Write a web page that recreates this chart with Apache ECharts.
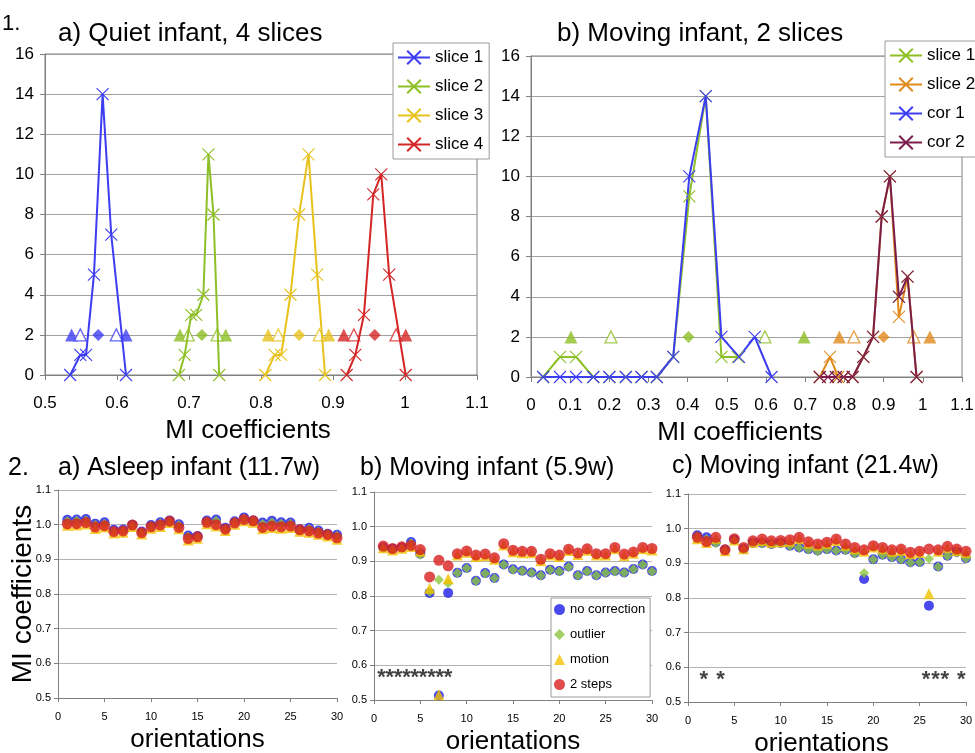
<!DOCTYPE html>
<html>
<head>
<meta charset="utf-8">
<script src="https://cdn.jsdelivr.net/npm/echarts@6/dist/echarts.min.js"></script>
<style>
  html, body { margin: 0; padding: 0; background: #fff; }
  #chart { width: 975px; height: 753px; }
</style>
</head>
<body>
<div id="chart"></div>
<script>
  // ---- 1a) quiet infant, 4 slices : histogram of MI coefficients
  const quietS1X = [0.535, 0.549, 0.557, 0.568, 0.580, 0.592, 0.6125]
  const quietS1Y = [0, 1, 1, 5, 14, 7, 0]
  const quietS2X = [0.686, 0.694, 0.703, 0.710, 0.720, 0.727, 0.734, 0.742]
  const quietS2Y = [0, 1, 3, 3, 4, 11, 8, 0]
  const quietS3X = [0.806, 0.819, 0.828, 0.841, 0.853, 0.866, 0.878, 0.889]
  const quietS3Y = [0, 1, 1, 4, 8, 11, 5, 0]
  const quietS4X = [0.919, 0.931, 0.943, 0.956, 0.967, 0.978, 1.001]
  const quietS4Y = [0, 1, 3, 9, 10, 5, 0]
  // markers drawn on the "2" row: [min, -sd, mean, +sd, max]
  const quietMarks = [
    [0.537, 0.549, 0.574, 0.599, 0.6125],
    [0.6875, 0.699, 0.718, 0.739, 0.751],
    [0.810, 0.824, 0.853, 0.881, 0.894],
    [0.915, 0.929, 0.958, 0.9875, 1.001],
  ]

  // ---- 1b) moving infant, 2 slices
  const movS1X = [0.031, 0.074, 0.115, 0.159, 0.200, 0.242, 0.282, 0.321, 0.363, 0.404, 0.446, 0.486, 0.528]
  const movS1Y = [0, 1, 1, 0, 0, 0, 0, 0, 1, 9, 14, 1, 1]
  const movS2X = [0.737, 0.763, 0.784, 0.798, 0.821, 0.848, 0.873, 0.895, 0.916, 0.939, 0.961, 0.984]
  const movS2Y = [0, 1, 0, 0, 0, 1, 2, 8, 10, 3, 5, 0]
  const movC1X = [0.031, 0.074, 0.115, 0.159, 0.200, 0.242, 0.282, 0.321, 0.363, 0.404, 0.446, 0.486, 0.531, 0.571, 0.614]
  const movC1Y = [0, 0, 0, 0, 0, 0, 0, 0, 1, 10, 14, 2, 1, 2, 0]
  const movC2X = [0.737, 0.758, 0.778, 0.798, 0.821, 0.848, 0.873, 0.895, 0.916, 0.939, 0.961, 0.984]
  const movC2Y = [0, 0, 0, 0, 0, 1, 2, 8, 10, 4, 5, 0]
  const movMarks = [
    [0.102, 0.204, 0.402, 0.597, 0.697],
    [0.787, 0.824, 0.900, 0.977, 1.018],
  ]
  const markRow = 2

  // ---- 2) MI coefficients per orientation
  const orientations = [1, 2, 3, 4, 5, 6, 7, 8, 9, 10, 11, 12, 13, 14, 15, 16, 17, 18, 19, 20, 21, 22, 23, 24, 25, 26, 27, 28, 29, 30]

  const asleepNoCorr = [1.014, 1.015, 1.016, 1.003, 1.007, 0.985, 0.986, 1.000, 0.980, 0.999, 1.007, 1.012, 1.001, 0.969, 0.967, 1.012, 1.015, 0.991, 1.010, 1.021, 1.012, 1.006, 1.011, 1.007, 1.006, 0.987, 0.991, 0.983, 0.974, 0.971]
  const asleepOutlier = [1.010, 1.011, 1.012, 0.999, 1.003, 0.982, 0.983, 0.998, 0.978, 0.996, 1.004, 1.010, 0.998, 0.965, 0.965, 1.009, 1.011, 0.989, 1.008, 1.018, 1.011, 1.002, 1.006, 1.003, 1.003, 0.985, 0.988, 0.980, 0.972, 0.968]
  const asleepMotion = [0.998, 0.999, 1.002, 0.989, 0.993, 0.976, 0.978, 0.995, 0.973, 0.990, 0.995, 1.006, 0.988, 0.956, 0.961, 1.003, 0.996, 0.983, 1.001, 1.011, 1.007, 0.988, 0.992, 0.990, 0.992, 0.981, 0.978, 0.972, 0.967, 0.958]
  const asleepTwoSteps = [1.002, 1.003, 1.006, 0.993, 0.997, 0.980, 0.982, 0.999, 0.977, 0.994, 0.999, 1.010, 0.992, 0.960, 0.965, 1.007, 1.000, 0.987, 1.005, 1.015, 1.011, 0.992, 0.996, 0.994, 0.996, 0.985, 0.982, 0.976, 0.971, 0.962]

  const mov59NoCorr = [0.940, 0.936, 0.940, 0.956, 0.922, 0.809, 0.513, 0.809, 0.867, 0.881, 0.844, 0.866, 0.852, 0.891, 0.877, 0.873, 0.868, 0.860, 0.876, 0.872, 0.885, 0.860, 0.872, 0.860, 0.868, 0.872, 0.868, 0.878, 0.891, 0.872]
  const mov59Outlier = [0.938, 0.934, 0.938, 0.952, 0.919, 0.812, 0.847, 0.837, 0.866, 0.880, 0.843, 0.865, 0.851, 0.890, 0.876, 0.872, 0.867, 0.859, 0.875, 0.871, 0.884, 0.859, 0.871, 0.859, 0.867, 0.871, 0.867, 0.877, 0.890, 0.871]
  const mov59Motion = [0.939, 0.933, 0.938, 0.943, 0.929, 0.822, 0.515, 0.850, 0.918, 0.926, 0.914, 0.917, 0.906, 0.947, 0.928, 0.925, 0.925, 0.902, 0.918, 0.914, 0.931, 0.920, 0.932, 0.918, 0.918, 0.936, 0.917, 0.923, 0.936, 0.933]
  const mov59TwoSteps = [0.944, 0.937, 0.942, 0.946, 0.934, 0.855, 0.903, 0.887, 0.922, 0.930, 0.918, 0.921, 0.910, 0.951, 0.932, 0.929, 0.929, 0.906, 0.922, 0.918, 0.935, 0.924, 0.936, 0.922, 0.922, 0.940, 0.921, 0.927, 0.940, 0.937]
  const mov59Stars = [0.8, 1.7, 2.6, 3.5, 4.4, 5.3, 6.2, 7.1, 8.0]

  const mov214NoCorr = [0.981, 0.975, 0.961, 0.940, 0.968, 0.941, 0.959, 0.959, 0.956, 0.959, 0.951, 0.946, 0.941, 0.937, 0.941, 0.937, 0.939, 0.930, 0.855, 0.912, 0.925, 0.918, 0.912, 0.903, 0.904, 0.778, 0.891, 0.922, 0.933, 0.915]
  const mov214Outlier = [0.978, 0.970, 0.958, 0.939, 0.966, 0.940, 0.958, 0.957, 0.955, 0.958, 0.950, 0.945, 0.940, 0.935, 0.940, 0.936, 0.938, 0.928, 0.872, 0.911, 0.924, 0.917, 0.911, 0.902, 0.903, 0.913, 0.890, 0.921, 0.931, 0.914]
  const mov214Motion = [0.971, 0.960, 0.972, 0.936, 0.967, 0.942, 0.961, 0.966, 0.961, 0.962, 0.964, 0.971, 0.958, 0.952, 0.957, 0.966, 0.952, 0.942, 0.935, 0.947, 0.942, 0.935, 0.937, 0.928, 0.931, 0.812, 0.935, 0.945, 0.937, 0.931]
  const mov214TwoSteps = [0.975, 0.963, 0.975, 0.939, 0.971, 0.946, 0.965, 0.970, 0.965, 0.966, 0.968, 0.975, 0.962, 0.956, 0.961, 0.970, 0.956, 0.946, 0.939, 0.951, 0.946, 0.939, 0.941, 0.932, 0.935, 0.941, 0.939, 0.949, 0.941, 0.935]
  const mov214Stars = [1.7, 3.5, 25.7, 26.7, 27.7, 29.5]
  const starLevel = 0.58

  const FONT = '"Liberation Sans", Arial, sans-serif'
  const BLUE = '#3c3cf2', GREEN = '#8dbf26', GOLD = '#e8c21c', RED = '#d42626'
  const ORANGE = '#e08a1c', PURPLE = '#7a1d4c'
  const P_BLUE = '#1c1ce8', P_GREEN = '#8cc63e', P_YEL = '#f2c200', P_RED = '#d81e1e'
  const CROSS = 'path://M0,0L10,10M10,0L0,10'

  const pair = (xs, ys) => xs.map((x, i) => [x, ys[i]])

  function histLine(name, xs, ys, color, gi) {
    return {
      name, type: 'line', xAxisIndex: gi, yAxisIndex: gi,
      data: pair(xs, ys),
      symbol: CROSS, symbolSize: 12, showAllSymbol: true,
      lineStyle: { color, width: 2 },
      itemStyle: { color: 'rgba(0,0,0,0)', borderColor: color, borderWidth: 1.1 },
      emphasis: { disabled: true },
    }
  }

  // filled triangles for min/max, open triangles for +-sd, diamond for mean
  function markSeries(marks, color, gi) {
    return [
      {
        type: 'scatter', xAxisIndex: gi, yAxisIndex: gi, symbol: 'triangle', symbolSize: 13,
        data: [[marks[0], markRow], [marks[4], markRow]],
        itemStyle: { color }, emphasis: { disabled: true },
      },
      {
        type: 'scatter', xAxisIndex: gi, yAxisIndex: gi, symbol: 'triangle', symbolSize: 12,
        data: [[marks[1], markRow], [marks[3], markRow]],
        itemStyle: { color: '#fff', borderColor: color, borderWidth: 1.3 }, emphasis: { disabled: true },
      },
      {
        type: 'scatter', xAxisIndex: gi, yAxisIndex: gi, symbol: 'diamond', symbolSize: 12,
        data: [[marks[2], markRow]],
        itemStyle: { color }, emphasis: { disabled: true },
      },
    ]
  }

  function miSeries(gi, none, outl, motion, two) {
    const base = { type: 'scatter', xAxisIndex: gi, yAxisIndex: gi, emphasis: { disabled: true } }
    return [
      { ...base, name: 'no correction', symbol: 'circle', symbolSize: 10, data: pair(orientations, none), itemStyle: { color: P_BLUE } },
      { ...base, name: 'outlier', symbol: 'diamond', symbolSize: 10, data: pair(orientations, outl), itemStyle: { color: P_GREEN } },
      { ...base, name: 'motion', symbol: 'triangle', symbolSize: 11, data: pair(orientations, motion), itemStyle: { color: P_YEL } },
      { ...base, name: '2 steps', symbol: 'circle', symbolSize: 11, data: pair(orientations, two), itemStyle: { color: P_RED } },
    ]
  }

  function starSeries(gi, xs) {
    return {
      type: 'scatter', xAxisIndex: gi, yAxisIndex: gi, symbolSize: 1,
      itemStyle: { color: 'rgba(0,0,0,0)' },
      data: xs.map(x => [x, starLevel]),
      label: { show: true, position: 'inside', formatter: '*', fontSize: 22, fontWeight: 'bold', color: '#111', fontFamily: FONT, offset: [0, 6] },
      emphasis: { disabled: true },
    }
  }

  const axisLineGrey = { show: true, lineStyle: { color: '#808080', width: 1 } }
  const tickGrey = { show: true, length: 5, inside: false, lineStyle: { color: '#808080' } }

  function topX(gi, min, nameShift) {
    return {
      type: 'value', gridIndex: gi, min, max: 1.1, interval: 0.1,
      axisLine: { ...axisLineGrey, onZero: false }, axisTick: tickGrey, splitLine: { show: false },
      axisLabel: { color: '#000', fontSize: 17, fontFamily: FONT, margin: 20 },
      name: 'MI coefficients', nameLocation: 'middle', nameGap: 43, nameMoveOverlap: false,
      nameTextStyle: { color: '#000', fontSize: 26, fontFamily: FONT, padding: [0, nameShift, 0, 0] },
    }
  }
  function topY(gi) {
    return {
      type: 'value', gridIndex: gi, min: 0, max: 16, interval: 2,
      axisLine: axisLineGrey, axisTick: tickGrey,
      splitLine: { show: true, lineStyle: { color: '#a0a0a0', width: 1 } },
      axisLabel: { color: '#000', fontSize: 17, fontFamily: FONT, margin: 11 },
    }
  }
  function botX(gi, nameShift) {
    return {
      type: 'value', gridIndex: gi, min: 0, max: 30, interval: 5,
      axisLine: { ...axisLineGrey, onZero: false }, axisTick: { ...tickGrey, length: 4 }, splitLine: { show: false },
      axisLabel: { color: '#000', fontSize: 11, fontFamily: FONT, margin: 13 },
      name: 'orientations', nameLocation: 'middle', nameGap: 29, nameMoveOverlap: false,
      nameTextStyle: { color: '#000', fontSize: 26, fontFamily: FONT, padding: [0, nameShift, 0, 0] },
    }
  }
  function botY(gi, withName) {
    const ax = {
      type: 'value', gridIndex: gi, min: 0.5, max: 1.1, interval: 0.1,
      axisLine: axisLineGrey, axisTick: { ...tickGrey, length: 4 },
      splitLine: { show: true, lineStyle: { color: '#b4b4b4', width: 1 } },
      axisLabel: { color: '#000', fontSize: 11, fontFamily: FONT, margin: 7, formatter: v => v.toFixed(1) },
    }
    if (withName) {
      ax.name = 'MI coefficients'
      ax.nameLocation = 'middle'
      ax.nameGap = 21
      ax.nameMoveOverlap = false
      ax.nameTextStyle = { color: '#000', fontSize: 28, fontFamily: FONT }
    }
    return ax
  }

  const titleStyle = (size) => ({ color: '#000', fontSize: size, fontWeight: 'normal', fontFamily: FONT })

  const chart = echarts.init(document.getElementById('chart'), null, { renderer: 'canvas' })
  chart.setOption({
    animation: false,
    backgroundColor: '#fff',
    textStyle: { fontFamily: FONT },
    title: [
      { text: '1.', left: 2, top: 13, padding: 0, textStyle: titleStyle(22) },
      { text: 'a) Quiet infant, 4 slices', left: 58, top: 21, padding: 0, textStyle: titleStyle(26) },
      { text: 'b) Moving infant, 2 slices', left: 557, top: 21, padding: 0, textStyle: titleStyle(26) },
      { text: '2.', left: 8, top: 456, padding: 0, textStyle: titleStyle(25) },
      { text: 'a) Asleep infant (11.7w)', left: 58, top: 456, padding: 0, textStyle: titleStyle(25) },
      { text: 'b) Moving infant (5.9w)', left: 360, top: 456, padding: 0, textStyle: titleStyle(25) },
      { text: 'c) Moving infant (21.4w)', left: 672, top: 454, padding: 0, textStyle: titleStyle(25) },
    ],
    legend: [
      {
        data: ['slice 1', 'slice 2', 'slice 3', 'slice 4'],
        orient: 'vertical', left: 393, top: 43, padding: [6, 6, 6, 4], itemGap: 12,
        itemWidth: 32, itemHeight: 17, selectedMode: false,
        backgroundColor: '#fff', borderColor: '#9a9a9a', borderWidth: 1,
        textStyle: { color: '#000', fontSize: 17, fontFamily: FONT },
      },
      {
        data: ['slice 1 ', 'slice 2 ', 'cor 1', 'cor 2'],
        orient: 'vertical', left: 885, top: 41, padding: [6, 8, 6, 4], itemGap: 12,
        itemWidth: 32, itemHeight: 17, selectedMode: false,
        backgroundColor: '#fff', borderColor: '#9a9a9a', borderWidth: 1,
        textStyle: { color: '#000', fontSize: 17, fontFamily: FONT },
      },
      {
        data: ['no correction', 'outlier', 'motion', '2 steps'],
        orient: 'vertical', left: 551, top: 598, padding: [5, 5, 6, 3], itemGap: 12,
        itemWidth: 11, itemHeight: 11, selectedMode: false,
        backgroundColor: '#fff', borderColor: '#9a9a9a', borderWidth: 1,
        textStyle: { color: '#000', fontSize: 13, fontFamily: FONT },
      },
    ],
    grid: [
      { left: 45, top: 54, width: 432, height: 321, show: true, borderColor: '#808080', borderWidth: 1, backgroundColor: 'transparent', outerBoundsMode: 'none' },
      { left: 531, top: 56, width: 431, height: 321, show: true, borderColor: '#808080', borderWidth: 1, backgroundColor: 'transparent', outerBoundsMode: 'none' },
      { left: 58, top: 490, width: 279, height: 208, outerBoundsMode: 'none' },
      { left: 374, top: 492, width: 278, height: 208, outerBoundsMode: 'none' },
      { left: 688, top: 494, width: 278, height: 208, outerBoundsMode: 'none' },
    ],
    xAxis: [topX(0, 0.5, 26), topX(1, 0, 13), botX(2, 0), botX(3, 0), botX(4, 11)],
    yAxis: [topY(0), topY(1), botY(2, true), botY(3, false), botY(4, false)],
    series: [
      histLine('slice 1', quietS1X, quietS1Y, BLUE, 0),
      histLine('slice 2', quietS2X, quietS2Y, GREEN, 0),
      histLine('slice 3', quietS3X, quietS3Y, GOLD, 0),
      histLine('slice 4', quietS4X, quietS4Y, RED, 0),
      ...markSeries(quietMarks[0], BLUE, 0),
      ...markSeries(quietMarks[1], GREEN, 0),
      ...markSeries(quietMarks[2], GOLD, 0),
      ...markSeries(quietMarks[3], RED, 0),

      histLine('slice 1 ', movS1X, movS1Y, GREEN, 1),
      histLine('slice 2 ', movS2X, movS2Y, ORANGE, 1),
      histLine('cor 1', movC1X, movC1Y, BLUE, 1),
      histLine('cor 2', movC2X, movC2Y, PURPLE, 1),
      ...markSeries(movMarks[0], GREEN, 1),
      ...markSeries(movMarks[1], ORANGE, 1),

      ...miSeries(2, asleepNoCorr, asleepOutlier, asleepMotion, asleepTwoSteps),
      ...miSeries(3, mov59NoCorr, mov59Outlier, mov59Motion, mov59TwoSteps),
      ...miSeries(4, mov214NoCorr, mov214Outlier, mov214Motion, mov214TwoSteps),
      starSeries(3, mov59Stars),
      starSeries(4, mov214Stars),
    ],
  })
</script>
</body>
</html>
